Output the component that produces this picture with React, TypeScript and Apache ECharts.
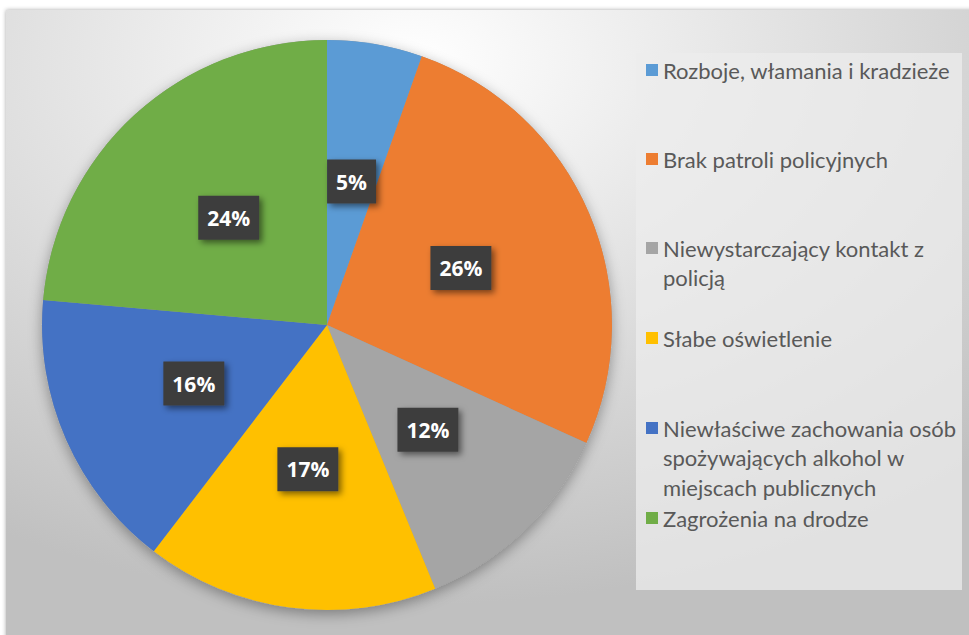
import React, { useEffect, useRef } from "react";
import * as echarts from "echarts";

const categories = [
  "Rozboje, włamania i kradzieże",
  "Brak patroli policyjnych",
  "Niewystarczający kontakt z policją",
  "Słabe oświetlenie",
  "Niewłaściwe zachowania osób spożywających alkohol w miejscach publicznych",
  "Zagrożenia na drodze",
];
const values = [5.4, 26.4, 12.0, 16.6, 16.0, 23.6];
const colors = ["#5B9BD5", "#ED7D31", "#A5A5A5", "#FFC000", "#4472C4", "#70AD47"];
const legendLines = [
  ["Rozboje, włamania i kradzieże"],
  ["Brak patroli policyjnych"],
  ["Niewystarczający kontakt z", "policją"],
  ["Słabe oświetlenie"],
  ["Niewłaściwe zachowania osób", "spożywających alkohol w", "miejscach publicznych"],
  ["Zagrożenia na drodze"],
];
const legendCenters = [70, 159, 248, 338, 428, 518];

const LINE_H = 29.5;

export default function App() {
  const ref = useRef<HTMLDivElement>(null);
  useEffect(() => {
    document.body.style.margin = "0";
    const chart = echarts.init(ref.current!, undefined, { renderer: "svg" });
    const legends = categories.map((name, i) => {
      const n = legendLines[i].length;
      const pre = new Array(n - 1).fill(" ");
      return {
        data: [name],
        orient: "vertical",
        left: 646,
        top: legendCenters[i] - ((2 * n - 1) * LINE_H) / 2,
        padding: 0,
        itemWidth: 12,
        itemHeight: 12,
        icon: "rect",
        selectedMode: false,
        formatter: () => pre.concat(legendLines[i]).join("\n"),
        textStyle: {
          fontFamily: "Lato",
          fontSize: 22,
          color: "#595959",
          lineHeight: LINE_H,
          backgroundColor: "rgba(0,0,0,0)",
        },
      };
    });
    chart.setOption({
      animation: false,
      color: colors,
      graphic: [
        {
          type: "rect",
          z: -10,
          shape: { x: 6, y: 10, width: 970, height: 640 },
          style: {
            fill: {
              type: "radial",
              x: 0.42,
              y: 0.08,
              r: 0.85,
              colorStops: [
                { offset: 0, color: "#ffffff" },
                { offset: 1, color: "#c0c0c0" },
              ],
            },
            shadowBlur: 4,
            shadowColor: "rgba(0,0,0,0.35)",
          },
        },
        {
          type: "rect",
          z: 1,
          shape: { x: 636, y: 53, width: 326, height: 537 },
          style: { fill: "rgba(236,236,236,0.75)" },
        },
      ],
      legend: legends,
      series: [
        {
          type: "pie",
          center: [327, 325],
          radius: 285,
          silent: true,
          z: 1,
          label: { show: false },
          labelLine: { show: false },
          itemStyle: {
            color: "#9a9a9a",
            shadowBlur: 14,
            shadowColor: "rgba(0,0,0,0.35)",
            shadowOffsetY: 4,
          },
          data: [{ value: 1, name: "" }],
        },
        {
          type: "pie",
          center: [327, 325],
          radius: 285,
          startAngle: 90,
          clockwise: true,
          z: 2,
          labelLine: { show: false },
          label: {
            show: true,
            position: "inside",
            formatter: (p: any) => Math.round(p.percent) + "%",
            color: "#ffffff",
            fontFamily: "Open Sans",
            fontWeight: "bold",
            fontSize: 21,
            lineHeight: 24,
            backgroundColor: "#3d3d3d",
            padding: [10, 9],
            shadowBlur: 6,
            shadowColor: "rgba(0,0,0,0.5)",
            shadowOffsetX: 3,
            shadowOffsetY: 3,
          },
          itemStyle: { borderWidth: 0 },
          data: categories.map((name, i) => ({ name, value: values[i] })),
        },
      ],
    });
    return () => chart.dispose();
  }, []);
  return <div ref={ref} style={{ width: 969, height: 635 }} />;
}
